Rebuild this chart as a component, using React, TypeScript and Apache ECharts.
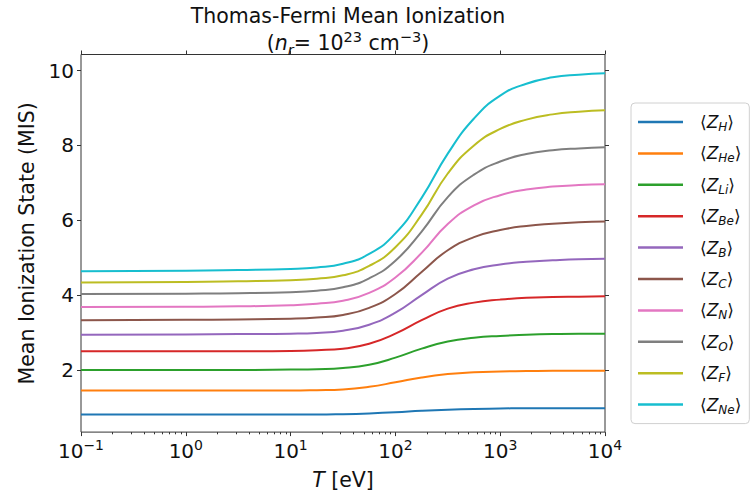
import React, { useEffect, useRef } from 'react';
import * as echarts from 'echarts';

// Temperature sample points (eV)
const temperatures = [0.1, 1, 3.16, 10, 17.8, 31.6, 56.2, 100, 178, 316, 562, 1000, 1778, 3162, 5623, 10000];

// Mean ionization values
const zH = [0.81, 0.81, 0.81, 0.81, 0.81, 0.82, 0.84, 0.87, 0.91, 0.94, 0.96, 0.97, 0.98, 0.98, 0.98, 0.98];
const zHe = [1.45, 1.45, 1.45, 1.45, 1.46, 1.48, 1.55, 1.67, 1.8, 1.89, 1.94, 1.96, 1.97, 1.98, 1.98, 1.98];
const zLi = [2.0, 2.0, 2.0, 2.01, 2.02, 2.05, 2.14, 2.33, 2.57, 2.76, 2.86, 2.91, 2.94, 2.96, 2.97, 2.97];
const zBe = [2.5, 2.5, 2.5, 2.51, 2.53, 2.57, 2.7, 2.97, 3.33, 3.64, 3.8, 3.88, 3.93, 3.95, 3.96, 3.97];
const zB = [2.94, 2.95, 2.96, 2.97, 2.99, 3.05, 3.21, 3.53, 4.0, 4.44, 4.69, 4.82, 4.89, 4.93, 4.96, 4.97];
const zC = [3.33, 3.34, 3.35, 3.37, 3.4, 3.47, 3.66, 4.03, 4.62, 5.2, 5.55, 5.74, 5.85, 5.91, 5.95, 5.97];
const zN = [3.68, 3.69, 3.7, 3.73, 3.77, 3.85, 4.06, 4.47, 5.13, 5.9, 6.4, 6.67, 6.82, 6.9, 6.94, 6.96];
const zO = [4.03, 4.04, 4.05, 4.08, 4.12, 4.21, 4.45, 4.92, 5.7, 6.62, 7.22, 7.57, 7.77, 7.87, 7.92, 7.95];
const zF = [4.34, 4.35, 4.37, 4.4, 4.44, 4.53, 4.78, 5.28, 6.15, 7.25, 8.0, 8.44, 8.69, 8.83, 8.9, 8.94];
const zNe = [4.64, 4.65, 4.67, 4.7, 4.74, 4.84, 5.1, 5.65, 6.6, 7.78, 8.72, 9.33, 9.65, 9.82, 9.89, 9.93];

const elements = ['H', 'He', 'Li', 'Be', 'B', 'C', 'N', 'O', 'F', 'Ne'];
const seriesValues = [zH, zHe, zLi, zBe, zB, zC, zN, zO, zF, zNe];
const colors = ['#1f77b4', '#ff7f0e', '#2ca02c', '#d62728', '#9467bd', '#8c564b', '#e377c2', '#7f7f7f', '#bcbd22', '#17becf'];

const yTicks = [2, 4, 6, 8, 10];
const xMajorTicks = [0.1, 1, 10, 100, 1000, 10000];
const xMinorTicks = [
  0.2, 0.3, 0.4, 0.5, 0.6, 0.7, 0.8, 0.9,
  2, 3, 4, 5, 6, 7, 8, 9,
  20, 30, 40, 50, 60, 70, 80, 90,
  200, 300, 400, 500, 600, 700, 800, 900,
  2000, 3000, 4000, 5000, 6000, 7000, 8000, 9000,
];

const FONT = 'DejaVu Sans';
const TEXT = '#111';

export default function App() {
  const ref = useRef<HTMLDivElement>(null);
  useEffect(() => {
    const chart = echarts.init(ref.current as HTMLDivElement, null, { renderer: 'svg' });
    const yMin = 0.34;
    const yMax = 10.43;
    const option: any = {
      animation: false,
      backgroundColor: '#fff',
      textStyle: { fontFamily: FONT, color: TEXT },
      title: [
        {
          text: 'Thomas-Fermi Mean Ionization',
          left: 343,
          top: 0,
          textAlign: 'center',
          textStyle: { fontFamily: FONT, fontSize: 20.5, fontWeight: 'normal', color: TEXT },
        },
        {
          text: '({i|n}{sub|r}{n|= 10}{sup|23}{n| cm}{sup|−3}{n|)}',
          left: 343,
          top: 24,
          textAlign: 'center',
          textStyle: {
            fontFamily: FONT,
            fontSize: 20.5,
            fontWeight: 'normal',
            color: TEXT,
            lineHeight: 28,
            rich: {
              n: { fontFamily: FONT, fontSize: 20.5, color: TEXT, lineHeight: 28 },
              i: { fontFamily: FONT, fontSize: 20.5, fontStyle: 'italic', color: TEXT, lineHeight: 28 },
              sub: { fontFamily: FONT, fontSize: 14.5, fontStyle: 'italic', color: TEXT, lineHeight: 16, verticalAlign: 'bottom' },
              sup: { fontFamily: FONT, fontSize: 14.5, color: TEXT, lineHeight: 16, verticalAlign: 'top' },
            },
          },
        },
      ],
      grid: {
        left: 81,
        top: 54.5,
        width: 524,
        height: 384.5,
        show: true,
        borderColor: '#333',
        borderWidth: 1,
        backgroundColor: 'transparent',
      },
      legend: {
        orient: 'vertical',
        left: 631,
        top: 103,
        icon: 'rect',
        itemWidth: 45,
        itemHeight: 2.5,
        itemGap: 9.4,
        padding: [8, 8, 8, 7],
        borderColor: '#d0d0d0',
        borderWidth: 1,
        borderRadius: 4,
        backgroundColor: '#fff',
        data: elements,
        formatter: (name: string) => `{a|⟨}{z|Z}{s|${name}}{a|⟩}`,
        textStyle: {
          fontFamily: FONT,
          fontSize: 17,
          color: TEXT,
          lineHeight: 22,
          padding: [0, 0, 0, 12],
          rich: {
            a: { fontFamily: FONT, fontSize: 17, color: TEXT, lineHeight: 22 },
            z: { fontFamily: FONT, fontSize: 17, fontStyle: 'italic', color: TEXT, lineHeight: 22 },
            s: { fontFamily: FONT, fontSize: 12, fontStyle: 'italic', color: TEXT, lineHeight: 13, verticalAlign: 'bottom' },
          },
        },
      },
      xAxis: [
        {
          type: 'log',
          logBase: 10,
          min: 0.1,
          max: 10000,
          position: 'bottom',
          axisLine: { show: false },
          axisTick: { show: true, inside: false, length: 4, customValues: xMajorTicks, lineStyle: { color: '#333' } },
          splitLine: { show: false },
          axisLabel: {
            customValues: xMajorTicks,
            fontFamily: FONT,
            fontSize: 20,
            color: TEXT,
            lineHeight: 26,
            margin: 6,
            formatter: (v: number) => {
              const e = Math.round(Math.log10(v));
              return `10{sup|${e < 0 ? '−' + -e : e}}`;
            },
            rich: {
              sup: { fontFamily: FONT, fontSize: 14, color: TEXT, lineHeight: 15, verticalAlign: 'top' },
            },
          },
          name: '{i|T} [eV]',
          nameLocation: 'middle',
          nameGap: 34,
          nameTextStyle: {
            fontFamily: FONT,
            fontSize: 20.5,
            color: TEXT,
            rich: {
              i: { fontFamily: FONT, fontSize: 20.5, fontStyle: 'italic', color: TEXT },
            },
          },
        },
        {
          type: 'log',
          logBase: 10,
          min: 0.1,
          max: 10000,
          position: 'bottom',
          axisLine: { show: false },
          axisTick: { show: true, inside: false, length: 2.2, customValues: xMinorTicks, lineStyle: { color: '#333' } },
          splitLine: { show: false },
          axisLabel: { show: false },
        },
        {
          type: 'log',
          logBase: 10,
          min: 0.1,
          max: 10000,
          position: 'top',
          axisLine: { show: false },
          axisTick: { show: true, inside: false, length: 4, customValues: xMajorTicks, lineStyle: { color: '#333' } },
          splitLine: { show: false },
          axisLabel: { show: false },
        },
      ],
      yAxis: [
        {
          type: 'value',
          min: yMin,
          max: yMax,
          position: 'left',
          axisLine: { show: false },
          axisTick: { show: true, inside: false, length: 4, customValues: yTicks, lineStyle: { color: '#333' } },
          splitLine: { show: false },
          axisLabel: { customValues: yTicks, fontFamily: FONT, fontSize: 20, color: TEXT, margin: 7 },
          name: 'Mean Ionization State (MIS)',
          nameLocation: 'middle',
          nameGap: 40,
          nameTextStyle: { fontFamily: FONT, fontSize: 20.5, color: TEXT },
        },
        {
          type: 'value',
          min: yMin,
          max: yMax,
          position: 'right',
          axisLine: { show: false },
          axisTick: { show: true, inside: false, length: 4, customValues: yTicks, lineStyle: { color: '#333' } },
          splitLine: { show: false },
          axisLabel: { show: false },
        },
      ],
      series: elements.map((name, k) => ({
        name,
        type: 'line',
        xAxisIndex: 0,
        yAxisIndex: 0,
        data: temperatures.map((t, i) => [t, seriesValues[k][i]]),
        symbol: 'none',
        showSymbol: false,
        smooth: 0.5,
        color: colors[k],
        lineStyle: { width: 2, color: colors[k] },
        z: 2 + k,
      })),
    };
    chart.setOption(option);
    return () => chart.dispose();
  }, []);
  return <div ref={ref} style={{ position: 'absolute', left: 0, top: 0, width: 753, height: 495 }} />;
}
